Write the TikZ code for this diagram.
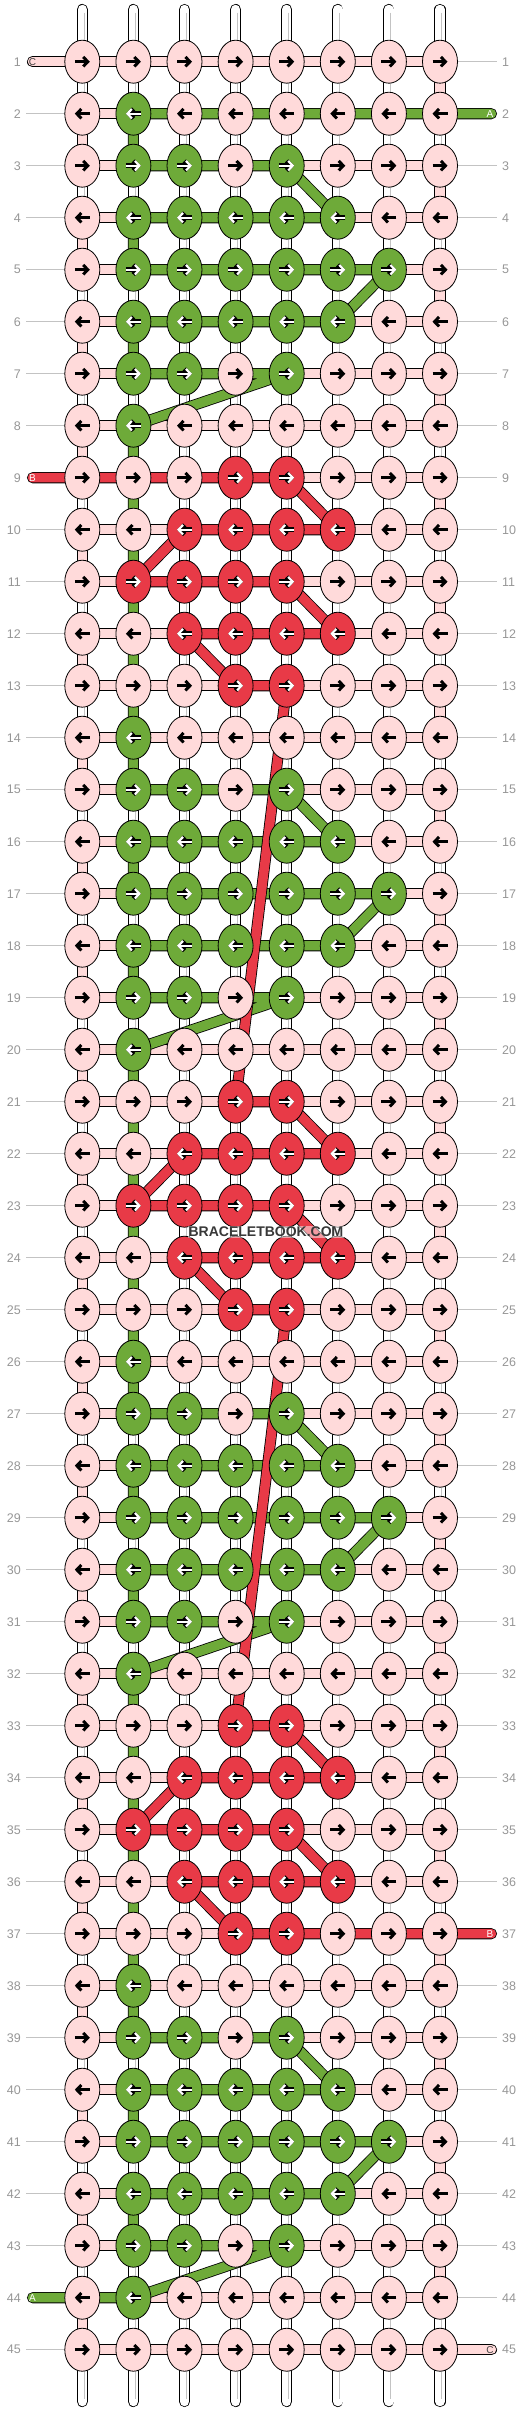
\documentclass[tikz,border=0pt]{standalone}
\usepackage{fontspec}
\setmainfont{Liberation Sans}
\usetikzlibrary{arrows.meta, shapes.geometric, backgrounds}
\definecolor{bbpink}{RGB}{255,218,218}
\definecolor{bbgreen}{RGB}{110,170,57}
\definecolor{bbred}{RGB}{232,58,71}
\definecolor{numgray}{RGB}{150,150,150}
\definecolor{linegray}{RGB}{195,195,195}

\tikzset{
  knot/.style={draw, ellipse, line width=0.8pt, minimum width=35pt, minimum height=43pt, inner sep=0pt},
  strand/.style={draw=black, line width=0.8pt, double distance=9.5pt, line cap=round, line join=round},
  warp/.style={strand, double=white},
  arrblk/.style={line width=3pt, -{Straight Barb[length=4.5pt, width=9.5pt]}},
  arrout/.style={line width=4.6pt, -{Straight Barb[length=4.5pt, width=9.5pt]}},
  arrwht/.style={white, line width=2.2pt, -{Straight Barb[length=4.5pt, width=9.5pt]}},
  rownum/.style={numgray, inner sep=0pt, font=\fontsize{12.5}{12.5}\selectfont},
  guide/.style={linegray, line width=0.8pt},
  endlbl/.style={inner sep=0pt, font=\fontsize{10}{10}\selectfont},
  watermark/.style={text=black!78, fill=white, fill opacity=0.5, text opacity=1, inner sep=1pt, font=\bfseries\fontsize{14}{14}\selectfont}
}

% knot colours of one 12-row repeat (rows 2-13): 0 pink, 1 green, 2 red
\def\knotmap{{0,1,0,0,0,0,0,0,
              0,1,1,0,1,0,0,0,
              0,1,1,1,1,1,0,0,
              0,1,1,1,1,1,1,0,
              0,1,1,1,1,1,0,0,
              0,1,1,0,1,0,0,0,
              0,1,0,0,0,0,0,0,
              0,0,0,2,2,0,0,0,
              0,0,2,2,2,2,0,0,
              0,2,2,2,2,0,0,0,
              0,0,2,2,2,2,0,0,
              0,0,0,2,2,0,0,0}}

\begin{document}
\begin{tikzpicture}[x=1pt, y=-1pt]
  \useasboundingbox (0,0) rectangle (532,2412);

  % knots
  \foreach \r in {1,...,45}{
    \foreach \c in {1,...,8}{
      \pgfmathsetmacro\kx{82.3+(\c-1)*51.1}
      \pgfmathsetmacro\ky{61.7+(\r-1)*52}
      \ifnum\r=1 \def\kc{0}\else\ifnum\r=45 \def\kc{0}\else
        \pgfmathtruncatemacro\kc{\knotmap[mod(\r-2,12)*8+\c-1]}\fi\fi
      \ifcase\kc \def\kfill{bbpink}\or \def\kfill{bbgreen}\or \def\kfill{bbred}\fi
      \ifodd\r \def\as{-7.5}\def\ae{7.5}\else \def\as{7.5}\def\ae{-7.5}\fi
      \node[knot, fill=\kfill] (k\r-\c) at (\kx,\ky) {};
      \ifnum\kc=0
        \draw[arrblk] ([xshift=\as pt]k\r-\c.center) -- ([xshift=\ae pt]k\r-\c.center);
      \else
        \draw[arrout] ([xshift=\as pt]k\r-\c.center) -- ([xshift=\ae pt]k\r-\c.center);
        \draw[arrwht] ([xshift=\as pt]k\r-\c.center) -- ([xshift=\ae pt]k\r-\c.center);
      \fi
    }
  }

  % row numbers
  \foreach \r in {1,...,45}{
    \node[rownum, anchor=east] (nl\r) at (21,{61.7+(\r-1)*52}) {\r};
    \node[rownum, anchor=west] (nr\r) at (502,{61.7+(\r-1)*52}) {\r};
  }

  % string ends
  \coordinate (Cin) at ([xshift=-49.8pt]k1-1.center);
  \coordinate (Cout) at ([xshift=51.5pt]k45-8.center);
  \coordinate (Ain) at ([xshift=51.5pt]k2-8.center);
  \coordinate (Aout) at ([xshift=-49.8pt]k44-1.center);
  \coordinate (Bin) at ([xshift=-49.8pt]k9-1.center);
  \coordinate (Bout) at ([xshift=51.5pt]k37-8.center);
  \foreach \c in {1,...,8}{
    \coordinate (wt\c) at ([yshift=52.2pt]k1-\c.center);
    \coordinate (wb\c) at ([yshift=-51.8pt]k45-\c.center);
  }

  \begin{scope}[on background layer]
    % guide lines
    \foreach \r in {1,...,45}{
      \pgfmathtruncatemacro\skipL{(\r==1)||(\r==9)||(\r==44)}
      \pgfmathtruncatemacro\skipR{(\r==2)||(\r==37)||(\r==45)}
      \ifnum\skipL=0 \draw[guide] ([xshift=5pt]nl\r.east) -- (k\r-1.center); \fi
      \ifnum\skipR=0 \draw[guide] (k\r-8.center) -- ([xshift=-5pt]nr\r.west); \fi
    }
    % white warp strings
    \foreach \c in {1,...,8}{
      \draw[warp] (wt\c) -- (wb\c);
      \draw[linegray, line width=0.6pt, shorten <=3pt, shorten >=3pt] ([xshift=1.5pt]wt\c) -- ([xshift=1.5pt]wb\c);
    }
    % string C
    \draw[strand, double=bbpink] (Cin)
      \foreach \r [evaluate=\r as \rn using int(\r+1)] in {1,3,...,43}{
        -- (k\r-1.center) -- (k\r-8.center) -- (k\rn-8.center) -- (k\rn-1.center)}
      -- (k45-1.center) -- (k45-8.center) -- (Cout);
    % string A
    \draw[strand, double=bbgreen] (Ain)
      \foreach \R [evaluate=\R as \rA using int(\R+1), evaluate=\R as \rB using int(\R+2),
                   evaluate=\R as \rC using int(\R+3), evaluate=\R as \rD using int(\R+4),
                   evaluate=\R as \rE using int(\R+5), evaluate=\R as \rF using int(\R+6)] in {2,14,26,38}{
        -- (k\R-2.center) -- (k\rA-2.center) -- (k\rA-5.center) -- (k\rB-6.center)
        -- (k\rB-2.center) -- (k\rC-2.center) -- (k\rC-7.center) -- (k\rD-6.center)
        -- (k\rD-2.center) -- (k\rE-2.center) -- (k\rE-5.center) -- (k\rF-2.center)}
      -- (Aout);
    % string B
    \draw[strand, double=bbred] (Bin)
      \foreach \R [evaluate=\R as \rA using int(\R+1), evaluate=\R as \rB using int(\R+2),
                   evaluate=\R as \rC using int(\R+3), evaluate=\R as \rD using int(\R+4)] in {9,21,33}{
        -- (k\R-4.center) -- (k\R-5.center) -- (k\rA-6.center) -- (k\rA-3.center)
        -- (k\rB-2.center) -- (k\rB-5.center) -- (k\rC-6.center) -- (k\rC-3.center)
        -- (k\rD-4.center) -- (k\rD-5.center)}
      -- (Bout);
  \end{scope}

  % string labels
  \node[endlbl, text=black!75] (lC1) at (Cin) {C};
  \node[endlbl, text=black!75] (lC2) at ([xshift=-1.5pt]Cout) {C};
  \node[endlbl, white] (lA1) at ([xshift=-1.5pt]Ain) {A};
  \node[endlbl, white] (lA2) at (Aout) {A};
  \node[endlbl, white] (lB1) at (Bin) {B};
  \node[endlbl, white] (lB2) at ([xshift=-1.5pt]Bout) {B};

  \node[watermark] (wm) at (266,1232) {BRACELETBOOK.COM};
\end{tikzpicture}
\end{document}
